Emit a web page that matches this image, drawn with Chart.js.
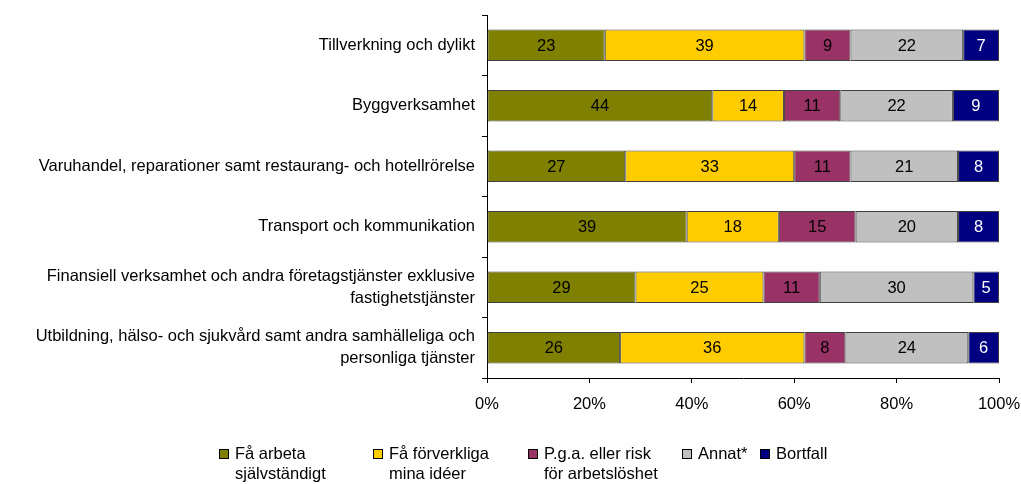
<!DOCTYPE html>
<html>
<meta charset="UTF-8">
<head>
    <title>Skäl för företagande</title>
    <script src="https://cdn.jsdelivr.net/npm/chart.js"></script>
    <style>
        body { margin: 0; background: #fff; }
        #wrap { position: relative; width: 1021px; height: 484px; }
    </style>
</head>
<body>
<div id="wrap"><canvas id="chart" width="1021" height="484"></canvas></div>

<script>
    // Branscher (rader)
    var categories = [
        'Tillverkning och dylikt',
        'Byggverksamhet',
        'Varuhandel, reparationer samt restaurang- och hotellrörelse',
        'Transport och kommunikation',
        ['Finansiell verksamhet och andra företagstjänster exklusive', 'fastighetstjänster'],
        ['Utbildning, hälso- och sjukvård samt andra samhälleliga och', 'personliga tjänster']
    ];

    // Serier (procent)
    var seriesNames = [
        ['Få arbeta', 'självständigt'],
        ['Få förverkliga', 'mina idéer'],
        ['P.g.a. eller risk', 'för arbetslöshet'],
        ['Annat*'],
        ['Bortfall']
    ];
    var faArbeta      = [23, 44, 27, 39, 29, 26];
    var faForverkliga = [39, 14, 33, 18, 25, 36];
    var arbetsloshet  = [9, 11, 11, 15, 11, 8];
    var annat         = [22, 22, 21, 20, 30, 24];
    var bortfall      = [7, 9, 8, 8, 5, 6];

    var xTicks = [0, 20, 40, 60, 80, 100];

    var colors = ['#808000', '#FFCC00', '#993366', '#C0C0C0', '#000080'];
    var labelColors = ['#000', '#000', '#000', '#000', '#fff'];
    var FONT = '"Liberation Sans", Arial, sans-serif';
    var FS = 16.5;

    var allSeries = [faArbeta, faForverkliga, arbetsloshet, annat, bortfall];
    var datasets = allSeries.map(function (d, i) {
        return {
            label: seriesNames[i].join(' '),
            data: d,
            backgroundColor: colors[i],
            borderColor: '#404040',
            borderWidth: 1,
            borderSkipped: false,
            barPercentage: 0.52,
            categoryPercentage: 1.0
        };
    });

    // Värden mitt i staplarna
    var valueLabels = {
        id: 'valueLabels',
        afterDatasetsDraw: function (chart) {
            var ctx = chart.ctx;
            ctx.save();
            ctx.font = FS + 'px ' + FONT;
            ctx.textAlign = 'center';
            ctx.textBaseline = 'middle';
            chart.data.datasets.forEach(function (ds, i) {
                var meta = chart.getDatasetMeta(i);
                ctx.fillStyle = labelColors[i];
                meta.data.forEach(function (el, j) {
                    ctx.fillText(ds.data[j], (el.x + el.base) / 2, el.y + 1);
                });
            });
            ctx.restore();
        }
    };

    // Förklaring nederst, med radbrytningar
    var legendBox = {
        id: 'legendBox',
        afterDraw: function (chart) {
            var ctx = chart.ctx;
            var starts = [219, 373, 528, 682, 760];
            var y = 454;
            ctx.save();
            ctx.font = FS + 'px ' + FONT;
            ctx.textAlign = 'left';
            ctx.textBaseline = 'middle';
            seriesNames.forEach(function (lines, i) {
                var x = starts[i];
                ctx.fillStyle = colors[i];
                ctx.fillRect(x, y - 5, 10, 10);
                ctx.strokeStyle = '#000';
                ctx.lineWidth = 1;
                ctx.strokeRect(x + 0.5, y - 4.5, 9, 9);
                ctx.fillStyle = '#000';
                lines.forEach(function (t, k) {
                    ctx.fillText(t, x + 16, y + k * 20);
                });
            });
            ctx.restore();
        }
    };

    new Chart(document.getElementById('chart'), {
        type: 'bar',
        data: { labels: categories, datasets: datasets },
        options: {
            indexAxis: 'y',
            responsive: false,
            animation: false,
            layout: { padding: { top: 15, right: 22, bottom: 66, left: 0 } },
            plugins: { legend: { display: false }, tooltip: { enabled: false } },
            scales: {
                x: {
                    stacked: true,
                    min: 0,
                    max: 100,
                    afterBuildTicks: function (axis) {
                        axis.ticks = xTicks.map(function (v) { return { value: v }; });
                    },
                    afterFit: function (axis) {
                        axis.height = 40;
                        axis.paddingLeft = 0;
                        axis.paddingRight = 0;
                    },
                    grid: { drawOnChartArea: false, tickLength: 5, color: '#000' },
                    border: { color: '#000' },
                    ticks: {
                        color: '#000',
                        padding: 12,
                        font: { size: FS, family: FONT },
                        maxRotation: 0,
                        callback: function (v) { return v + '%'; }
                    }
                },
                y: {
                    stacked: true,
                    offset: true,
                    afterFit: function (axis) {
                        axis.width = 487;
                        axis.paddingTop = 0;
                        axis.paddingBottom = 0;
                    },
                    grid: { offset: true, drawOnChartArea: false, tickLength: 5, color: '#000' },
                    border: { color: '#000' },
                    ticks: {
                        color: '#000',
                        padding: 7,
                        font: { size: FS, family: FONT, lineHeight: 1.35 }
                    }
                }
            }
        },
        plugins: [valueLabels, legendBox]
    });
</script>
</body>
</html>
